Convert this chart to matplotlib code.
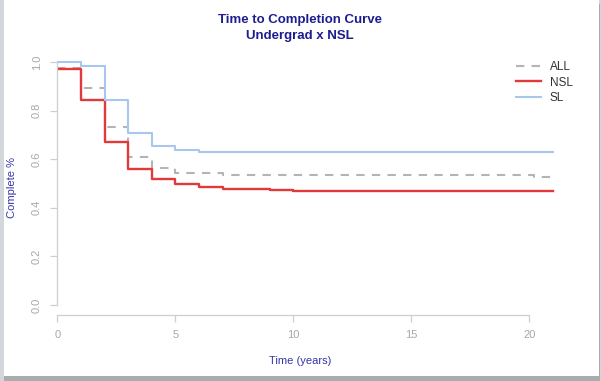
import matplotlib.pyplot as plt
from matplotlib.patches import Rectangle

plt.rcParams['font.family'] = ['Liberation Sans', 'DejaVu Sans']

# step curves (time in years, share still not complete)
all_t = [0, 1, 2, 3, 4, 5, 7, 20.2, 21]
all_s = [0.977, 0.892, 0.731, 0.610, 0.563, 0.544, 0.535, 0.525, 0.525]

nsl_t = [0, 1, 2, 3, 4, 5, 6, 7, 9, 10, 14, 21]
nsl_s = [0.970, 0.844, 0.670, 0.560, 0.519, 0.497, 0.487, 0.479, 0.473, 0.470, 0.468, 0.468]

sl_t = [0, 1, 2, 3, 4, 5, 6, 21]
sl_s = [1.0, 0.985, 0.844, 0.709, 0.656, 0.639, 0.631, 0.631]

xticks = [0, 5, 10, 15, 20]
yticks = [0.0, 0.2, 0.4, 0.6, 0.8, 1.0]

W, H = 601, 381
fig = plt.figure(figsize=(W / 100, H / 100), dpi=100)
fig.patch.set_facecolor('#d3d6db')
# white card with a shadow
fig.patches.append(Rectangle((4 / W, 0), 596 / W, 1 - 4 / H, transform=fig.transFigure,
                             facecolor='#a9abaf', edgecolor='none', zorder=0))
fig.patches.append(Rectangle((4 / W, 5 / H), 595 / W, 1 - 5 / H, transform=fig.transFigure,
                             facecolor='white', edgecolor='none', zorder=0.5))

left, right, top, bottom = 57.3, 572.8, 52.3, 314.7
ax = fig.add_axes([left / W, 1 - bottom / H, (right - left) / W, (bottom - top) / H])
ax.set_zorder(3)
ax.set_facecolor('none')

ax.step(all_t, all_s, where='post', color='#b4b4b4', lw=1.5, dashes=(4, 3.5), label='ALL')
ax.step(nsl_t, nsl_s, where='post', color='#e23a3a', lw=1.7, label='NSL')
ax.step(sl_t, sl_s, where='post', color='#a9c6ec', lw=1.5, label='SL')

ax.set_xlim(0, 21.84)
ax.set_ylim(-0.04, 1.04)
for s in ['top', 'right']:
    ax.spines[s].set_visible(False)
ax.spines['left'].set_bounds(0, 1)
ax.spines['bottom'].set_bounds(0, 20)
for s in ['left', 'bottom']:
    ax.spines[s].set_color('#cfcfcf')
    ax.spines[s].set_linewidth(0.9)

ax.set_xticks(xticks)
ax.set_xticklabels([str(v) for v in xticks])
ax.set_yticks(yticks)
ax.set_yticklabels([f'{v:.1f}' for v in yticks], rotation=90, va='center')
ax.tick_params(colors='#cfcfcf', labelcolor='#a8a8a8', labelsize=8, length=5, width=0.9, pad=6)

ax.legend(loc='upper left', bbox_to_anchor=(516 / W, 1 - 61 / H), bbox_transform=fig.transFigure,
          frameon=False, fontsize=8.5, handlelength=2.1, handletextpad=0.75, labelspacing=0.3,
          borderpad=0, borderaxespad=0, labelcolor='#333333')

fig.text(300 / W, 1 - 20.5 / H, 'Time to Completion Curve', ha='center', va='center',
         fontsize=9.5, fontweight='bold', color='#1d1d8f', zorder=4)
fig.text(300 / W, 1 - 36.5 / H, 'Undergrad x NSL', ha='center', va='center',
         fontsize=9.5, fontweight='bold', color='#1d1d8f', zorder=4)
fig.text(300 / W, 1 - 361 / H, 'Time (years)', ha='center', va='center',
         fontsize=8, color='#3535a8', zorder=4)
fig.text(12 / W, 1 - 188 / H, 'Complete %', ha='center', va='center', rotation=90,
         fontsize=8, color='#3535a8', zorder=4)

fig.savefig('out.png', dpi=100, facecolor=fig.get_facecolor())
